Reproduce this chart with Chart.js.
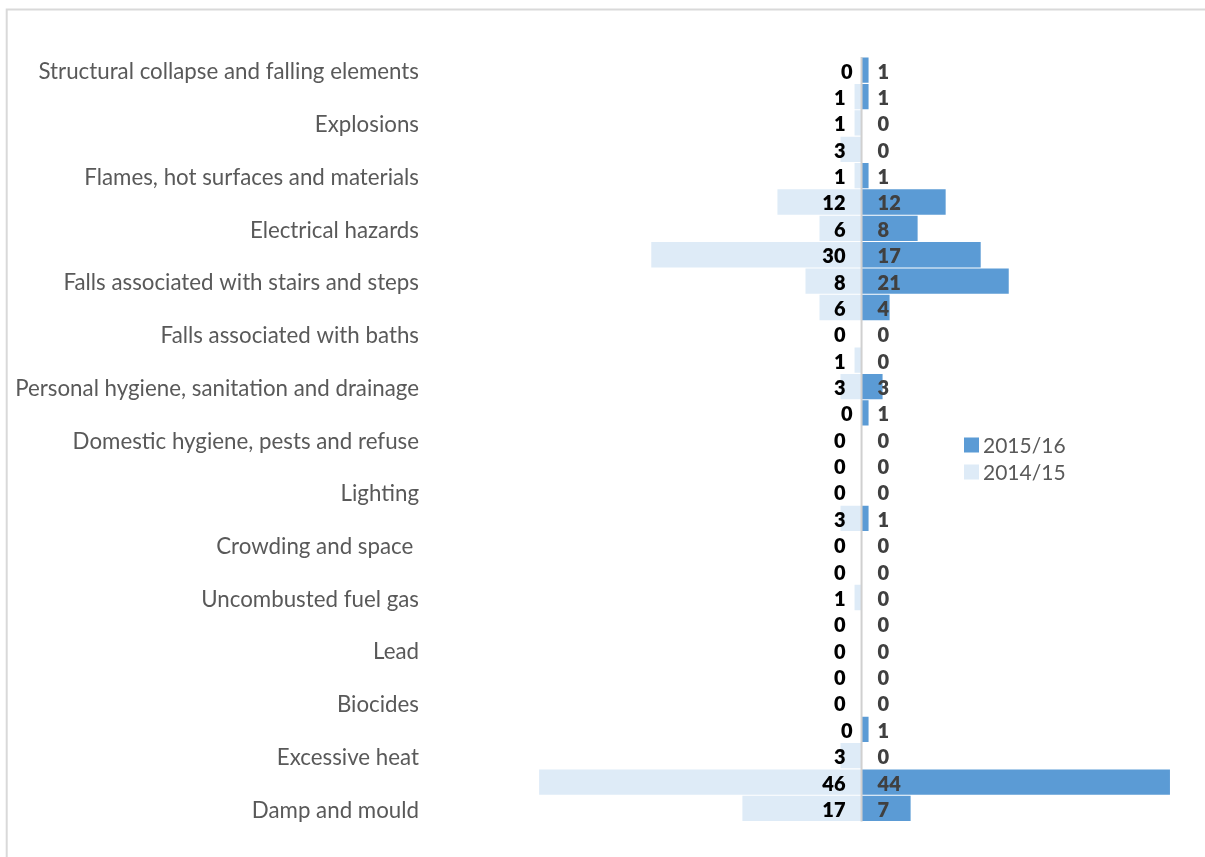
<!DOCTYPE html>
<html>
<head>
<meta charset="utf-8">
<script src="https://cdn.jsdelivr.net/npm/chart.js@4/dist/chart.umd.min.js"></script>
<style>
  html, body { margin: 0; padding: 0; background: #fff; overflow: hidden; }
  #wrap { position: relative; width: 1205px; height: 857px; }
</style>
</head>
<body>
<div id="wrap"><canvas id="c" width="1205" height="857"></canvas></div>
<script>
// HHSRS hazards, listed top to bottom
const hazards = [
  'Structural collapse and falling elements',
  'Position and operability of amenities',
  'Explosions',
  'Collision and entrapment',
  'Flames, hot surfaces and materials',
  'Fire',
  'Electrical hazards',
  'Falling between levels',
  'Falls associated with stairs and steps',
  'Falling on level surfaces',
  'Falls associated with baths',
  'Water supply',
  'Personal hygiene, sanitation and drainage',
  'Food safety',
  'Domestic hygiene, pests and refuse',
  'Noise',
  'Lighting',
  'Entry by intruders',
  'Crowding and space ',
  'Volatile organic compounds',
  'Uncombusted fuel gas',
  'Radiation',
  'Lead',
  'Carbon monoxide',
  'Biocides',
  'Asbestos',
  'Excessive heat',
  'Excess cold',
  'Damp and mould'
];

const year2015 = [1, 1, 0, 0, 1, 12, 8, 17, 21, 4, 0, 0, 3, 1, 0, 0, 0, 1, 0, 0, 0, 0, 0, 0, 0, 1, 0, 44, 7];
const year2014 = [0, 1, 1, 3, 1, 12, 6, 30, 8, 6, 0, 1, 3, 0, 0, 0, 0, 3, 0, 0, 1, 0, 0, 0, 0, 0, 3, 46, 17];

const seriesNames = ['2015/16', '2014/15'];
const seriesColors = ['#5b9bd5', '#deebf7'];

const FONT = 'Lato, "Open Sans", sans-serif';

// outer frame of the chart
const framePlugin = {
  id: 'frame',
  beforeDraw(chart) {
    const ctx = chart.ctx;
    ctx.save();
    ctx.strokeStyle = '#d9d9d9';
    ctx.lineWidth = 2;
    ctx.beginPath();
    ctx.moveTo(1210, 9.5);
    ctx.lineTo(6.7, 9.5);
    ctx.lineTo(6.7, 870);
    ctx.stroke();
    ctx.restore();
  }
};

// vertical axis line at zero, value labels and legend
const overlayPlugin = {
  id: 'overlay',
  afterDatasetsDraw(chart) {
    const ctx = chart.ctx;
    const xs = chart.scales.x;
    const area = chart.chartArea;
    const x0 = xs.getPixelForValue(0);

    ctx.save();
    ctx.strokeStyle = '#d0d0d0';
    ctx.lineWidth = 2;
    ctx.beginPath();
    ctx.moveTo(x0, area.top);
    ctx.lineTo(x0, area.bottom);
    ctx.stroke();

    const meta = chart.getDatasetMeta(0);
    ctx.font = '800 20px ' + FONT;
    ctx.textBaseline = 'middle';
    meta.data.forEach((bar, i) => {
      const y = bar.y + 2;
      // 2014/15 on the left
      ctx.fillStyle = '#000000';
      ctx.textAlign = 'right';
      const leftShift = (year2014[i] === 0 && year2015[i] > 0) ? 9 : 16;
      ctx.fillText(String(year2014[i]), x0 - leftShift, y);
      // 2015/16 on the right
      ctx.fillStyle = '#404040';
      ctx.textAlign = 'left';
      ctx.fillText(String(year2015[i]), x0 + 16, y);
    });

    // legend
    ctx.font = '21px ' + FONT;
    ctx.textAlign = 'left';
    ctx.textBaseline = 'middle';
    const lx = 964, ly = 445;
    chart.data.datasets.forEach((ds, k) => {
      const cy = ly + k * 27;
      ctx.fillStyle = ds.backgroundColor;
      ctx.fillRect(lx, cy - 7.5, 15, 15);
      ctx.fillStyle = '#595959';
      ctx.fillText(ds.label, lx + 19, cy + 1);
    });
    ctx.restore();
  }
};

new Chart(document.getElementById('c'), {
  type: 'bar',
  data: {
    labels: hazards,
    datasets: [
      {
        label: seriesNames[0],
        data: year2015,
        backgroundColor: seriesColors[0],
        barPercentage: 1,
        categoryPercentage: 0.96
      },
      {
        label: seriesNames[1],
        data: year2014.map(v => -v),
        backgroundColor: seriesColors[1],
        barPercentage: 1,
        categoryPercentage: 0.96
      }
    ]
  },
  options: {
    indexAxis: 'y',
    responsive: false,
    animation: false,
    layout: { padding: { left: 0, right: 0, top: 57, bottom: 35 } },
    plugins: {
      legend: { display: false },
      tooltip: { enabled: false }
    },
    scales: {
      x: {
        stacked: true,
        min: -60,
        max: 49,
        display: true,
        grid: { display: false, drawTicks: false },
        border: { display: false },
        ticks: { display: false }
      },
      y: {
        stacked: true,
        grid: { display: false, drawTicks: false },
        border: { display: false },
        afterFit(scale) { scale.width = 441; },
        ticks: {
          autoSkip: false,
          padding: 22,
          labelOffset: 2,
          color: '#595959',
          font: { family: FONT, size: 22.3 },
          callback(value, index) {
            return index % 2 === 0 ? this.getLabelForValue(value) : '';
          }
        }
      }
    }
  },
  plugins: [framePlugin, overlayPlugin]
});
</script>
</body>
</html>
